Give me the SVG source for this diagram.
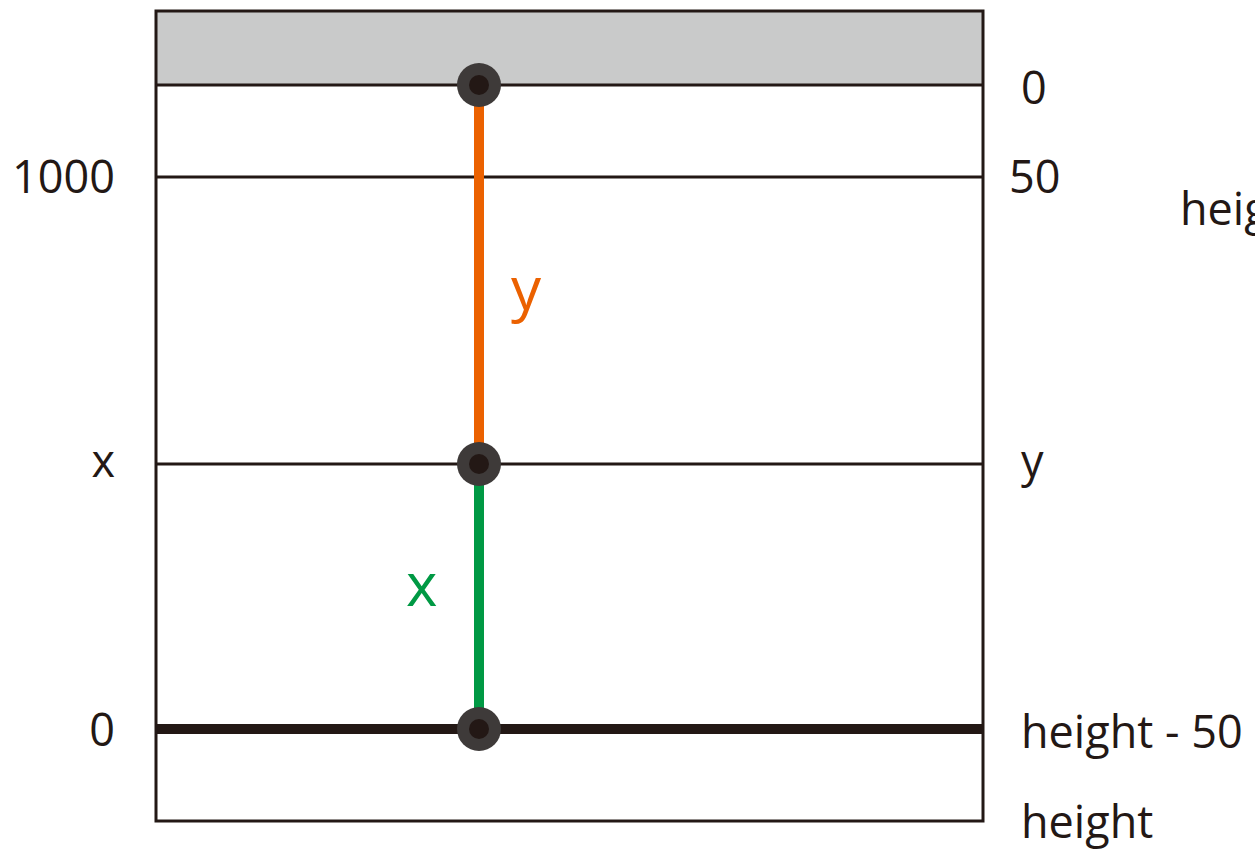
<svg xmlns="http://www.w3.org/2000/svg" width="1255" height="850" viewBox="0 0 1255 850">
<style>
.t{font-family:"Open Sans","Noto Sans",sans-serif;font-size:45px;fill:#231815}
.ln{stroke:#231815;stroke-width:3;fill:none}
.o{fill:#3e3a39}
.i{fill:#231815}
</style>
<rect x="0" y="0" width="1255" height="850" fill="#fff"/>
<g id="frame">
<rect x="156" y="11" width="827" height="74" fill="#c9caca"/>
<rect x="156" y="11" width="827" height="810" class="ln"/>
</g>
<g id="connectors">
<line x1="156" y1="85" x2="983" y2="85" class="ln"/>
<line x1="156" y1="177" x2="983" y2="177" class="ln"/>
<line x1="156" y1="464" x2="983" y2="464" class="ln"/>
<line x1="156" y1="729" x2="983" y2="729" stroke="#231815" stroke-width="10"/>
<line x1="479" y1="85" x2="479" y2="464" stroke="#eb6100" stroke-width="10"/>
<line x1="479" y1="464" x2="479" y2="729" stroke="#009944" stroke-width="10"/>
</g>
<g id="p0"><circle cx="479" cy="85" r="22" class="o"/><circle cx="479" cy="85" r="10" class="i"/></g>
<g id="p1"><circle cx="479" cy="464" r="22" class="o"/><circle cx="479" cy="464" r="10" class="i"/></g>
<g id="p2"><circle cx="479" cy="729" r="22" class="o"/><circle cx="479" cy="729" r="10" class="i"/></g>
<g id="labels">
<text class="t" x="115" y="193" text-anchor="end">1000</text>
<text class="t" x="115" y="477" text-anchor="end">x</text>
<text class="t" x="115" y="746" text-anchor="end">0</text>
<text class="t" x="1021" y="104">0</text>
<text class="t" x="1009" y="193">50</text>
<text class="t" x="1180" y="225">height</text>
<text class="t" x="1021" y="477">y</text>
<text class="t" x="1021" y="748">height - 50</text>
<text class="t" x="1021" y="838">height</text>
<text x="511" y="310" font-family="Open Sans, Noto Sans, sans-serif" font-size="60" fill="#eb6100">y</text>
<text x="406" y="606" font-family="Open Sans, Noto Sans, sans-serif" font-size="60" fill="#009944">x</text>
</g>
</svg>
